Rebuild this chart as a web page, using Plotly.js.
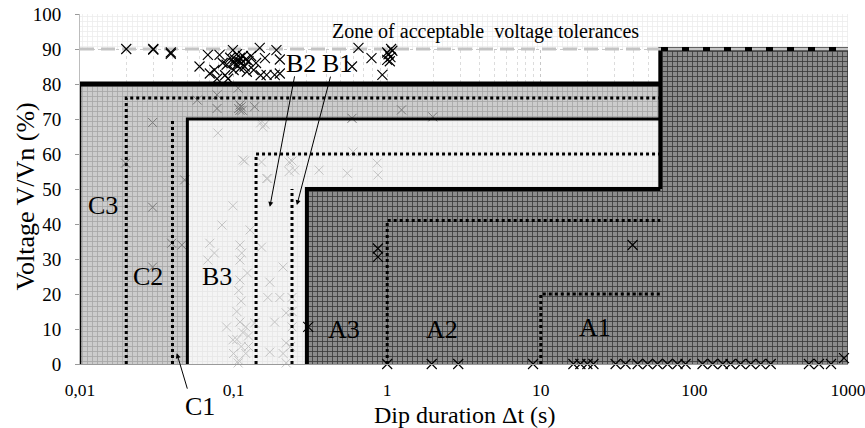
<!DOCTYPE html>
<html>
<head>
<meta charset="utf-8">
<script src="https://cdn.plot.ly/plotly-3.0.1.min.js"></script>
<style>html,body{margin:0;padding:0;background:#fff;}#chart{width:865px;height:428px;}</style>
</head>
<body>
<div id="chart"></div>
<script>
// ---- axis tick labels ----
const xTickVals = [0.01, 0.1, 1, 10, 100, 1000];
const xTickText = ['0,01', '0,1', '1', '10', '100', '1000'];

// ---- zone polygons (duration s, voltage %) ----
const tolZoneX = [0.01, 0.01, 1000, 1000];
const tolZoneY = [90, 100, 100, 90];
const zoneCX = [0.01, 0.01, 60, 60, 0.05, 0.05];
const zoneCY = [0, 80, 80, 70, 70, 0];
const zoneBX = [0.05, 0.05, 60, 60, 0.3, 0.3];
const zoneBY = [0, 70, 70, 50, 50, 0];
const zoneAX = [0.3, 0.3, 60, 60, 1000, 1000];
const zoneAY = [0, 50, 50, 90, 90, 0];

// ---- solid class limits ----
const limLeftX = [0.01, 0.01];      const limLeftY = [0, 80];
const lim80X = [0.01, 60];          const lim80Y = [80, 80];
const limUpperX = [60, 60, 1000];   const limUpperY = [50, 90, 90];
const limBX = [0.05, 0.05, 60];     const limBY = [0, 70, 70];
const limAX = [0.3, 0.3, 60];       const limAY = [0, 50, 50];

// ---- dotted sub-class limits ----
const subC3X = [0.02, 0.02, 60];    const subC3Y = [0, 76, 76];
const subC1X = [0.04, 0.04];        const subC1Y = [0, 70];
const subB3X = [0.14, 0.14, 60];    const subB3Y = [0, 60, 60];
const subB1X = [0.24, 0.24];        const subB1Y = [0, 50];
const subA3X = [1, 1, 60];          const subA3Y = [0, 41, 41];
const subA1X = [10, 10, 60];        const subA1Y = [0, 20, 20];

// ---- tolerance line ----
const tolLineX = [0.01, 1000];
const tolLineY = [90, 90];

// ---- measured dips: black (outside zones / zone A) ----
const dipBlackDur = [0.02, 0.03, 0.03, 0.039, 0.039,
  0.060, 0.068, 0.070, 0.075, 0.081, 0.085, 0.088, 0.09, 0.095, 0.099, 0.1, 0.1, 0.102, 0.105, 0.105,
  0.108, 0.11, 0.11, 0.112, 0.115, 0.118, 0.12, 0.122, 0.125, 0.13, 0.135, 0.14, 0.148, 0.15, 0.16,
  0.164, 0.185, 0.19, 0.2, 0.2, 0.092, 0.078,
  0.59, 0.65, 0.79, 0.93, 1.0, 1.05, 1.0, 1.02, 1.08, 1.04, 1.06,
  0.306, 0.87, 0.87, 39.6,
  1.0, 1.95, 2.9, 8.9, 16.3, 18.1, 20.1, 22, 30.7, 35.6, 42.7, 49.6, 57.5, 66.8, 77.6, 87.6,
  113, 131.5, 153, 172, 200, 233, 270, 314, 557, 647, 775, 942];
const dipBlackVolt = [90, 90, 89.8, 89, 88.6,
  85, 88.3, 83, 84, 88.3, 86, 82.5, 85.5, 87.5, 89.7, 86, 84, 87, 85.5, 88.5,
  86.5, 84.5, 87.5, 86, 88, 85, 87, 83.5, 86.5, 88, 84, 86, 90.3, 82.5, 87.4,
  82.6, 82.6, 89.7, 83, 87, 81.5, 81.5,
  85, 90.3, 87.4, 82.6, 89, 87.7, 86.9, 88.5, 89.5, 86.5, 90,
  10.6, 33, 30.6, 34,
  0, 0, 0, 0, 0, 0, 0, 0, 0, 0, 0, 0, 0, 0, 0, 0,
  0, 0, 0, 0, 0, 0, 0, 0, 0, 0, 0, 1.7];

// ---- measured dips inside zone C (medium grey) ----
const dipGreyDur = [0.0198, 0.0297, 0.0297, 0.0297, 0.0395, 0.046, 0.048, 0.058, 0.078, 0.078,
  0.107, 0.108, 0.11, 0.112, 0.114, 0.11, 0.137, 0.59, 1.24, 1.98];
const dipGreyVolt = [57.4, 69, 44.8, 27.7, 34.5, 34, 52.6, 75.4, 76.9, 73,
  78.8, 73, 72.5, 73.5, 72.5, 74, 73.5, 70.2, 72.6, 70.6];

// ---- measured dips inside zone B (light grey) ----
const dipLightDur = [0.079, 0.15, 0.155, 0.16, 0.115, 0.118, 0.152, 0.23, 0.25, 0.167, 0.164, 0.099,
  0.24, 0.23, 0.36, 0.55, 0.6, 0.86, 0.87, 0.084, 0.128, 0.07, 0.075, 0.068, 0.11, 0.113, 0.11,
  0.152, 0.123, 0.11, 0.108, 0.112, 0.105, 0.11, 0.115, 0.105, 0.112, 0.1, 0.12, 0.108, 0.125, 0.125,
  0.172, 0.21, 0.167, 0.2, 0.24, 0.22, 0.185, 0.09, 0.12, 0.137, 0.099, 0.172, 0.21, 0.22, 0.24,
  0.107, 0.22, 0.24, 0.235];
const dipLightVolt = [66, 68.9, 67.7, 68.5, 58.3, 58, 57.7, 57.7, 55.4, 53, 53, 45.2,
  58, 55, 55.4, 54.5, 60.6, 57.4, 54, 39.7, 38.3, 34.5, 31.7, 29.7, 34, 31.7, 29.7,
  33.4, 26, 24, 21, 18, 15, 12, 9, 7, 5, 3, 3, 1, 8, 5,
  23.4, 27.7, 19, 19, 19, 14.6, 12, 10.6, 10.6, 11.7, 6.9, 3.4, 3, 6, 10.6,
  0.3, 0.3, 15, 5];

const serif = 'Liberation Serif, Times New Roman, serif';

function zone(x, y, bg, fg, size, sol) {
  return {x: x, y: y, type: 'scatter', mode: 'lines', fill: 'toself', fillcolor: bg,
    fillpattern: {shape: '+', bgcolor: bg, fgcolor: fg, size: size, solidity: sol, fillmode: 'replace'},
    line: {width: 0, color: 'rgba(0,0,0,0)'}, hoverinfo: 'skip', showlegend: false};
}
function ln(x, y, w, color, dash) {
  return {x: x, y: y, type: 'scatter', mode: 'lines', line: {width: w, color: color, dash: dash || 'solid'},
    hoverinfo: 'skip', showlegend: false, cliponaxis: false};
}
function pts(x, y, color, size, w) {
  return {x: x, y: y, type: 'scatter', mode: 'markers', cliponaxis: false,
    marker: {symbol: 'x-thin', size: size, line: {width: w, color: color}, color: color},
    hoverinfo: 'skip', showlegend: false};
}

const traces = [
  zone(tolZoneX, tolZoneY, '#ffffff', '#ececec', 5, 0.3),
  zone(zoneCX, zoneCY, '#cccccc', '#a6a6a6', 5, 0.3),
  zone(zoneBX, zoneBY, '#f4f4f4', '#e6e6e6', 5, 0.3),
  zone(zoneAX, zoneAY, '#8c8c8c', '#3a3a3a', 5, 0.3),
  pts(dipLightDur, dipLightVolt, '#c4c4c4', 9, 1),
  pts(dipGreyDur, dipGreyVolt, '#7a7a7a', 9, 1),
  ln(subC3X, subC3Y, 3, '#000', '3px,3px'),
  ln(subC1X, subC1Y, 3, '#000', '3px,3px'),
  ln(subB3X, subB3Y, 3, '#000', '3px,3px'),
  ln(subB1X, subB1Y, 3, '#000', '3px,3px'),
  ln(subA3X, subA3Y, 3, '#000', '3px,3px'),
  ln(subA1X, subA1Y, 3, '#000', '3px,3px'),
  ln(limLeftX, limLeftY, 2.5, '#000'),
  ln(lim80X, lim80Y, 5, '#000'),
  ln(limUpperX, limUpperY, 4, '#000'),
  ln(limBX, limBY, 3, '#000'),
  ln(limAX, limAY, 4, '#000'),
  ln(tolLineX, tolLineY, 3, '#c4c4c4', '14px,7px'),
  pts(dipBlackDur, dipBlackVolt, '#000000', 10, 1.1)
];

function lab(txt, lx, y) {
  return {text: txt, x: lx, y: y, xref: 'x', yref: 'y', showarrow: false,
    font: {family: serif, size: 26, color: '#000'}};
}
function arrow(lx, y, ax, ay) {
  return {text: '', x: lx, y: y, xref: 'x', yref: 'y', ax: ax, ay: ay, showarrow: true,
    arrowhead: 2, arrowsize: 1, arrowwidth: 1, arrowcolor: '#000', standoff: 0, startstandoff: 0};
}

const layout = {
  width: 865, height: 428,
  margin: {l: 80, r: 17, t: 14, b: 64},
  paper_bgcolor: '#ffffff', plot_bgcolor: '#ffffff',
  font: {family: serif, color: '#000'},
  showlegend: false,
  xaxis: {
    type: 'log', range: [-2, 3],
    tickvals: xTickVals, ticktext: xTickText,
    tickfont: {family: serif, size: 17.5, color: '#000'},
    ticks: '', ticklabelstandoff: 10, ticklabeloverflow: 'allow',
    showgrid: true, gridcolor: '#c8c8c8', griddash: 'dot', gridwidth: 1,
    minor: {showgrid: true, dtick: 'D1', gridcolor: '#dcdcdc', griddash: 'dot', gridwidth: 1},
    showline: true, linecolor: '#9a9a9a', linewidth: 1, mirror: false,
    zeroline: false
  },
  yaxis: {
    range: [0, 100], dtick: 10,
    tickfont: {family: serif, size: 19, color: '#000'},
    ticks: 'outside', ticklen: 4, tickcolor: '#9a9a9a', ticklabelstandoff: 10,
    showgrid: true, gridcolor: '#c8c8c8', griddash: 'dot', gridwidth: 1,
    showline: true, linecolor: '#bdbdbd', linewidth: 1,
    zeroline: false
  },
  annotations: [
    {text: 'Dip duration \u0394t (s)', x: 0.5, y: -0.146, xref: 'paper', yref: 'paper',
      xanchor: 'center', yanchor: 'middle', showarrow: false,
      font: {family: serif, size: 24, color: '#000'}},
    {text: 'Voltage V/Vn (%)', x: -0.071, y: 0.48, xref: 'paper', yref: 'paper', textangle: -90,
      xanchor: 'center', yanchor: 'middle', showarrow: false,
      font: {family: serif, size: 26, color: '#000'}},
    lab('C3', -1.853, 45.4),
    lab('C2', -1.56, 24.9),
    lab('B3', -1.11, 24.9),
    lab('A3', -0.281, 10),
    lab('A2', 0.358, 10),
    lab('A1', 1.356, 10.3),
    lab('B2', -0.562, 86),
    lab('B1', -0.327, 86),
    {text: 'Zone of acceptable  voltage tolerances', x: 0.639, y: 94.9, xref: 'x', yref: 'y',
      showarrow: false, font: {family: serif, size: 20, color: '#000'}},
    {text: 'C1', x: 0.156, y: -0.12, xref: 'paper', yref: 'paper', xanchor: 'center', yanchor: 'middle',
      showarrow: false, font: {family: serif, size: 26, color: '#000'}},
    arrow(-1.370, 3.1, 11, 37),
    arrow(-0.764, 44.9, 25, -132),
    arrow(-0.588, 45.4, 34, -130)
  ]
};

Plotly.newPlot('chart', traces, layout, {displayModeBar: false, staticPlot: true});
</script>
</body>
</html>
